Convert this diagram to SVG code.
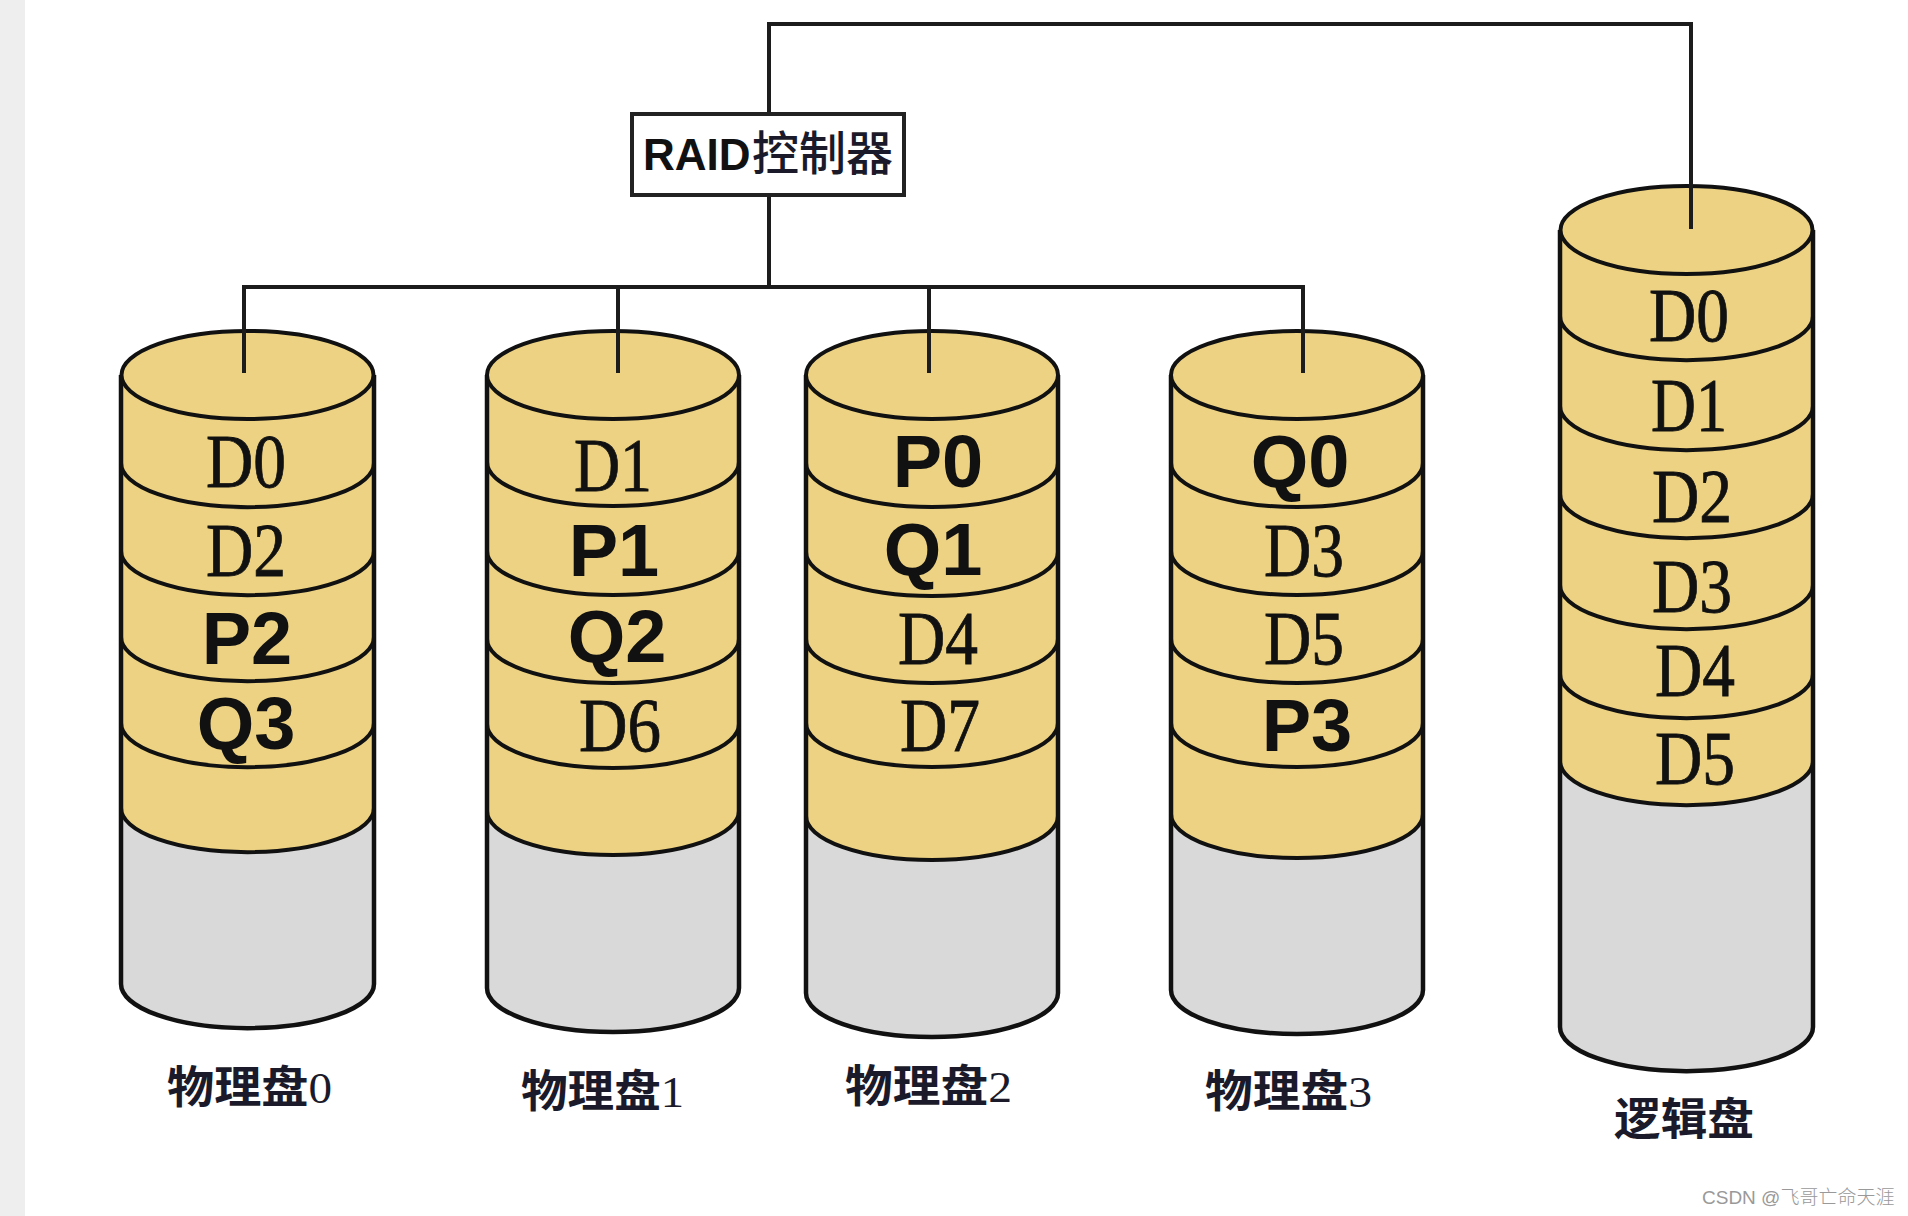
<svg xmlns="http://www.w3.org/2000/svg" width="1908" height="1216" viewBox="0 0 1908 1216">
<style>
.y{fill:#ecd282;stroke:none}
.g{fill:#d9d9d9;stroke:none}
.o{fill:none;stroke:#111;stroke-width:4.5}
.a{fill:none;stroke:#111;stroke-width:4}
.t{fill:#ecd282;stroke:#111;stroke-width:4}
.c{fill:none;stroke:#1c1c1c;stroke-width:4}
.s{font-family:"Liberation Serif",serif;font-size:76px;fill:#111;stroke:#111;stroke-width:.8;text-anchor:middle}
.b{font-family:"Liberation Sans",sans-serif;font-size:74px;font-weight:bold;fill:#111;text-anchor:middle}
.l{font-family:"Liberation Serif","Noto Sans CJK SC",serif;font-size:44px;font-weight:bold;fill:#1a1a2a}
.n{font-weight:normal}
</style>
<rect width="1908" height="1216" fill="#fff"/>
<rect width="25" height="1216" fill="#eeeeee"/>

<g id="disk0">
<path class="g" d="M121 820H374V984A126 44 0 0 1 121 984Z"/>
<path class="y" d="M121 375H374V808A126 44 0 0 1 121 808Z"/>
<path class="o" d="M121 375V984A126 44 0 0 0 374 984V375"/>
<path class="a" d="M121 463A126 44 0 0 0 374 463M121 551A126 44 0 0 0 374 551M121 637A126 44 0 0 0 374 637M121 723A126 44 0 0 0 374 723M121 808A126 44 0 0 0 374 808"/>
<ellipse class="t" cx="247.5" cy="375" rx="126" ry="44"/>
<text class="s" x="246" y="487" textLength="80" lengthAdjust="spacingAndGlyphs">D0</text>
<text class="s" x="246" y="576" textLength="80" lengthAdjust="spacingAndGlyphs">D2</text>
<text class="b" x="247" y="664">P2</text>
<text class="b" x="246" y="749">Q3</text>
<text class="l" x="167" y="1103" textLength="165" lengthAdjust="spacingAndGlyphs">物理盘<tspan class="n">0</tspan></text>
</g>

<g id="disk1">
<path class="g" d="M487 820H739V988A126 44 0 0 1 487 988Z"/>
<path class="y" d="M487 375H739V811A126 44 0 0 1 487 811Z"/>
<path class="o" d="M487 375V988A126 44 0 0 0 739 988V375"/>
<path class="a" d="M487 462A126 44 0 0 0 739 462M487 551A126 44 0 0 0 739 551M487 639A126 44 0 0 0 739 639M487 724A126 44 0 0 0 739 724M487 811A126 44 0 0 0 739 811"/>
<ellipse class="t" cx="613" cy="375" rx="126" ry="44"/>
<text class="s" x="613" y="491" textLength="78" lengthAdjust="spacingAndGlyphs">D1</text>
<text class="b" x="614" y="576">P1</text>
<text class="b" x="617" y="662">Q2</text>
<text class="s" x="620" y="751" textLength="82" lengthAdjust="spacingAndGlyphs">D6</text>
<text class="l" x="521" y="1107" textLength="163" lengthAdjust="spacingAndGlyphs">物理盘<tspan class="n">1</tspan></text>
</g>

<g id="disk2">
<path class="g" d="M806 820H1058V993A126 44 0 0 1 806 993Z"/>
<path class="y" d="M806 375H1058V816A126 44 0 0 1 806 816Z"/>
<path class="o" d="M806 375V993A126 44 0 0 0 1058 993V375"/>
<path class="a" d="M806 463A126 44 0 0 0 1058 463M806 552A126 44 0 0 0 1058 552M806 639A126 44 0 0 0 1058 639M806 723A126 44 0 0 0 1058 723M806 816A126 44 0 0 0 1058 816"/>
<ellipse class="t" cx="932" cy="375" rx="126" ry="44"/>
<text class="b" x="938" y="487">P0</text>
<text class="b" x="933" y="575">Q1</text>
<text class="s" x="938" y="664" textLength="80" lengthAdjust="spacingAndGlyphs">D4</text>
<text class="s" x="940" y="751" textLength="80" lengthAdjust="spacingAndGlyphs">D7</text>
<text class="l" x="845" y="1102" textLength="167" lengthAdjust="spacingAndGlyphs">物理盘<tspan class="n">2</tspan></text>
</g>

<g id="disk3">
<path class="g" d="M1171 820H1423V990A126 44 0 0 1 1171 990Z"/>
<path class="y" d="M1171 375H1423V814A126 44 0 0 1 1171 814Z"/>
<path class="o" d="M1171 375V990A126 44 0 0 0 1423 990V375"/>
<path class="a" d="M1171 463A126 44 0 0 0 1423 463M1171 551A126 44 0 0 0 1423 551M1171 639A126 44 0 0 0 1423 639M1171 723A126 44 0 0 0 1423 723M1171 814A126 44 0 0 0 1423 814"/>
<ellipse class="t" cx="1297" cy="375" rx="126" ry="44"/>
<text class="b" x="1300" y="487">Q0</text>
<text class="s" x="1304" y="576" textLength="80" lengthAdjust="spacingAndGlyphs">D3</text>
<text class="s" x="1304" y="664" textLength="80" lengthAdjust="spacingAndGlyphs">D5</text>
<text class="b" x="1307" y="751">P3</text>
<text class="l" x="1205" y="1107" textLength="167" lengthAdjust="spacingAndGlyphs">物理盘<tspan class="n">3</tspan></text>
</g>

<g id="logical">
<path class="g" d="M1560 770H1813V1027A126 44 0 0 1 1560 1027Z"/>
<path class="y" d="M1560 230H1813V761A126 44 0 0 1 1560 761Z"/>
<path class="o" d="M1560 230V1027A126 44 0 0 0 1813 1027V230"/>
<path class="a" d="M1560 316A126 44 0 0 0 1813 316M1560 406A126 44 0 0 0 1813 406M1560 494A126 44 0 0 0 1813 494M1560 585A126 44 0 0 0 1813 585M1560 674A126 44 0 0 0 1813 674M1560 761A126 44 0 0 0 1813 761"/>
<ellipse class="t" cx="1686.5" cy="230" rx="126" ry="44"/>
<text class="s" x="1689" y="341" textLength="80" lengthAdjust="spacingAndGlyphs">D0</text>
<text class="s" x="1689" y="431" textLength="76" lengthAdjust="spacingAndGlyphs">D1</text>
<text class="s" x="1692" y="522" textLength="80" lengthAdjust="spacingAndGlyphs">D2</text>
<text class="s" x="1692" y="612" textLength="80" lengthAdjust="spacingAndGlyphs">D3</text>
<text class="s" x="1695" y="696" textLength="80" lengthAdjust="spacingAndGlyphs">D4</text>
<text class="s" x="1695" y="784" textLength="80" lengthAdjust="spacingAndGlyphs">D5</text>
<text class="l" x="1614" y="1135" font-size="46" textLength="140" lengthAdjust="spacingAndGlyphs">逻辑盘</text>
</g>

<g id="connectors">
<path class="c" d="M769 113V24H1691V229"/>
<path class="c" d="M769 195V287"/>
<path class="c" d="M244 373V287H1303V373"/>
<path class="c" d="M618 287V373M929 287V373"/>
</g>

<g id="controller">
<rect x="632" y="114" width="272" height="81" fill="#fff" stroke="#222" stroke-width="4"/>
<text x="643" y="170" font-family="'Liberation Sans',sans-serif" font-size="44" font-weight="bold" fill="#111">RAID</text>
<text x="752" y="170" font-family="'Noto Sans CJK SC',sans-serif" font-size="47" font-weight="500" fill="#1a1a2a">控制器</text>
</g>

<text id="watermark" x="1702" y="1204" font-family="'Liberation Sans','Noto Sans CJK SC',sans-serif" font-size="19" font-weight="300" fill="#999">CSDN @飞哥亡命天涯</text>
</svg>
